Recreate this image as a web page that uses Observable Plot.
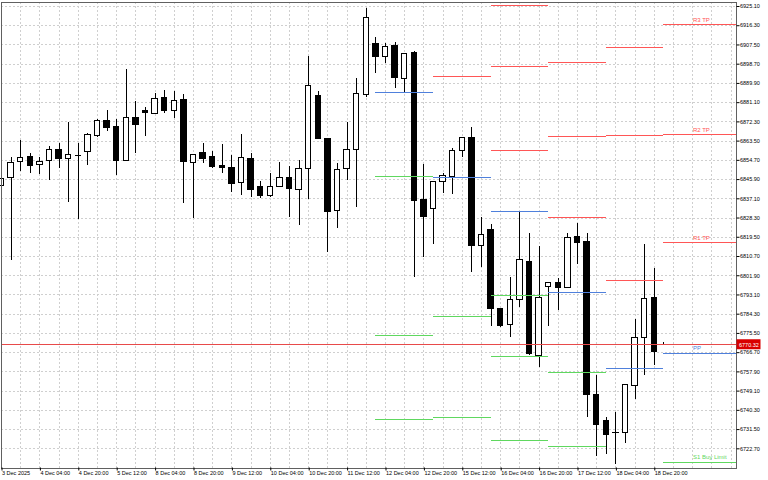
<!DOCTYPE html>
<html><head><meta charset="utf-8">
<script src="https://cdn.jsdelivr.net/npm/d3@7"></script>
<script src="https://cdn.jsdelivr.net/npm/@observablehq/plot@0.6"></script>
<style>
html,body{margin:0;padding:0;background:#fff;}
#chart{width:768px;height:480px;overflow:hidden;}
</style></head><body><div id="chart"></div>
<script>
// 4-hour candles (index 0..69)
const opens  = [6842.9,6846.5,6854.0,6856.1,6852.7,6854.2,6859.3,6855.4,6856.8,6858.6,6865.7,6872.8,6870.1,6854.6,6874.2,6877.2,6876.0,6883.3,6877.2,6882.1,6853.6,6858.0,6856.1,6851.9,6851.0,6844.4,6855.2,6842.4,6838.2,6842.6,6846.5,6841.0,6850.7,6884.1,6864.4,6831.4,6850.7,6859.5,6884.4,6908.0,6902.1,6906.9,6892.0,6903.9,6836.6,6832.5,6844.6,6847.3,6858.9,6864.8,6815.5,6822.9,6786.9,6779.3,6790.9,6808.4,6765.3,6796.8,6798.8,6796.4,6819.4,6817.2,6747.1,6735.3,6730.1,6729.9,6751.5,6773.2,6791.6,6770.3];
const highs  = [6846.8,6855.9,6863.8,6857.7,6855.9,6861.0,6862.3,6872.0,6862.3,6866.8,6873.4,6877.4,6873.3,6896.1,6881.5,6878.7,6885.2,6886.7,6886.1,6884.8,6857.6,6862.3,6858.9,6862.0,6856.8,6866.5,6857.7,6845.2,6848.5,6853.7,6851.9,6854.6,6902.4,6886.1,6864.5,6853.1,6872.2,6892.0,6924.0,6910.8,6908.3,6908.8,6903.7,6904.5,6852.7,6845.0,6848.8,6860.0,6864.9,6869.9,6828.4,6825.3,6787.0,6801.2,6831.4,6821.4,6815.3,6798.8,6800.5,6821.1,6825.8,6821.1,6756.2,6737.2,6739.2,6751.8,6781.9,6816.0,6805.0,6771.3];
const lows   = [6842.3,6808.9,6849.7,6848.8,6848.1,6845.6,6851.1,6835.5,6827.8,6852.2,6865.2,6867.8,6847.8,6854.4,6857.7,6865.6,6875.7,6876.0,6874.0,6834.8,6828.2,6853.4,6851.0,6848.8,6840.1,6838.6,6837.8,6837.1,6837.9,6842.4,6828.7,6825.0,6836.6,6864.2,6812.7,6823.4,6845.5,6833.3,6883.3,6894.3,6898.9,6887.7,6885.2,6801.0,6810.1,6816.2,6839.4,6838.9,6855.9,6803.4,6805.5,6778.7,6778.1,6773.5,6787.5,6765.4,6760.0,6778.7,6786.0,6796.3,6807.0,6737.2,6719.2,6720.1,6715.4,6725.0,6745.4,6756.4,6760.7,6770.0];
const closes = [6846.3,6853.6,6855.7,6852.3,6854.0,6859.5,6855.2,6857.2,6856.7,6866.5,6872.9,6869.6,6854.6,6874.2,6870.8,6876.3,6883.0,6877.5,6881.8,6853.9,6857.2,6855.2,6851.6,6851.3,6844.1,6855.7,6841.0,6838.2,6842.4,6846.7,6841.4,6850.8,6888.6,6864.6,6831.0,6850.4,6859.5,6885.0,6919.9,6902.2,6906.7,6892.3,6903.5,6836.0,6829.0,6844.9,6847.6,6858.9,6864.8,6815.7,6820.4,6786.6,6779.0,6790.9,6808.9,6766.2,6791.8,6798.7,6796.4,6819.3,6816.8,6747.1,6733.6,6729.0,6730.0,6751.7,6773.2,6791.3,6767.1,6770.32];
const currentPrice = 6770.32;

// x-axis labels, one every 4 candles
const timeLabels = ["3 Dec 2025","4 Dec 04:00","4 Dec 20:00","5 Dec 12:00","8 Dec 04:00","8 Dec 20:00","9 Dec 12:00","10 Dec 04:00","10 Dec 20:00","11 Dec 12:00","12 Dec 04:00","12 Dec 20:00","15 Dec 12:00","16 Dec 04:00","16 Dec 20:00","17 Dec 12:00","18 Dec 04:00","18 Dec 20:00"];
// y-axis tick labels
const priceTicks = [6722.70,6731.50,6740.30,6749.10,6757.90,6766.70,6775.50,6784.30,6793.10,6801.90,6810.70,6819.50,6828.30,6837.10,6845.90,6854.70,6863.50,6872.30,6881.10,6889.90,6898.70,6907.50,6916.30,6925.10];

// daily pivot segments (start/end candle index)
const segStart = [39,45,51,57,63,69];
const segEnd   = [45,51,57,63,69,76.51];
const r3 = [null,   null,   6925.6, 6899.6, 6906.3, 6916.7];
const r2 = [null,   null,   6897.5, 6865.5, 6865.9, 6866.4];
const r1 = [null,   6892.9, 6859.1, 6828.7, 6799.9, 6817.0];
const pp = [6885.6, 6846.7, 6831.2, 6794.4, 6759.4, 6766.4];
const s1 = [6847.2, 6783.2, 6792.7, 6757.5, null,   6716.6];
const s2 = [6774.5, 6737.0, 6764.9, 6723.6, null,   null];
const s3 = [6736.1, null,   6726.4, null,   null,   null];
const lastLabels = [["R3 TP", r3, "r"], ["R2 TP", r2, "r"], ["R1 TP", r1, "r"], ["PP", pp, "p"], ["S1 Buy Limit", s1, "s"]];

const RED = "#ff5656", BLUE = "#4f80dc", GREEN = "#5fd85f";
const colorOf = {r3: RED, r2: RED, r1: RED, pp: BLUE, s1: GREEN, s2: GREEN, s3: GREEN, r: RED, p: BLUE, s: GREEN};

const bars = opens.map((o, i) => ({i, open: o, high: highs[i], low: lows[i], close: closes[i], up: closes[i] >= o}));
const levels = [];
for (const [name, arr] of Object.entries({r3, r2, r1, pp, s1, s2, s3})) {
  arr.forEach((v, k) => { if (v != null) levels.push({price: v, x1: segStart[k], x2: segEnd[k], color: colorOf[name]}); });
}
const last = segStart.length - 1;
const labelRows = lastLabels.map(([t, arr, c]) => ({text: t, price: arr[last], x: segStart[last], color: colorOf[c]}));
const xMax = 76.51;
const tickIdx = timeLabels.map((_, k) => k * 4);
const gridX = d3.range(0, xMax, 2);

const chart = Plot.plot({
  width: 768, height: 480,
  marginLeft: 1, marginRight: 32.5, marginTop: 1.5, marginBottom: 12.5,
  style: {fontFamily: "'Liberation Sans', Arial, sans-serif", fontSize: "5.5px", background: "#fff", color: "#000"},
  x: {domain: [0, xMax]},
  y: {domain: [6713.92, 6927.16]},
  marks: [
    Plot.ruleY(priceTicks, {stroke: "#cfcfcf", strokeDasharray: "2,2", shapeRendering: "crispEdges"}),
    Plot.ruleX(gridX, {stroke: "#cfcfcf", strokeDasharray: "2,2", shapeRendering: "crispEdges"}),
    Plot.ruleX(bars, {x: "i", y1: "low", y2: "high", stroke: "#000", strokeWidth: 1, shapeRendering: "crispEdges"}),
    Plot.rect(bars, {x1: d => d.i - 0.28, x2: d => d.i + 0.28, y1: "open", y2: "close", fill: d => d.up ? "#fff" : "#000", stroke: "#000", strokeWidth: 1, shapeRendering: "crispEdges"}),
    Plot.ruleY(levels, {y: "price", x1: "x1", x2: "x2", stroke: "color", strokeWidth: 1, shapeRendering: "crispEdges"}),
    Plot.ruleY([currentPrice], {stroke: "#e84a4a", strokeWidth: 1, shapeRendering: "crispEdges"}),
    Plot.text(labelRows, {x: "x", y: "price", text: "text", fill: "color", dx: 29, dy: -5, textAnchor: "start", fontSize: 6}),
    Plot.frame({stroke: "#606060", shapeRendering: "crispEdges"}),
    Plot.axisY(priceTicks, {anchor: "right", tickSize: 3, tickPadding: 1, tickFormat: d => d.toFixed(2), fontSize: 5.5}),
    Plot.axisX(tickIdx, {anchor: "bottom", tickSize: 3, tickPadding: 0, tickFormat: d => timeLabels[d / 4], textAnchor: "start", dx: 0.5, fontSize: 5.5}),
    Plot.rect([currentPrice], {x1: xMax, x2: xMax, y1: d => d, y2: d => d, insetLeft: 1, insetRight: -25, insetTop: -5, insetBottom: -5, fill: "#d90000"}),
    Plot.text([currentPrice], {x: xMax, y: d => d, text: d => d.toFixed(2), dx: 3, textAnchor: "start", fill: "#fff", fontSize: 5.5})
  ]
});
document.getElementById("chart").appendChild(chart);
</script>
</body></html>
